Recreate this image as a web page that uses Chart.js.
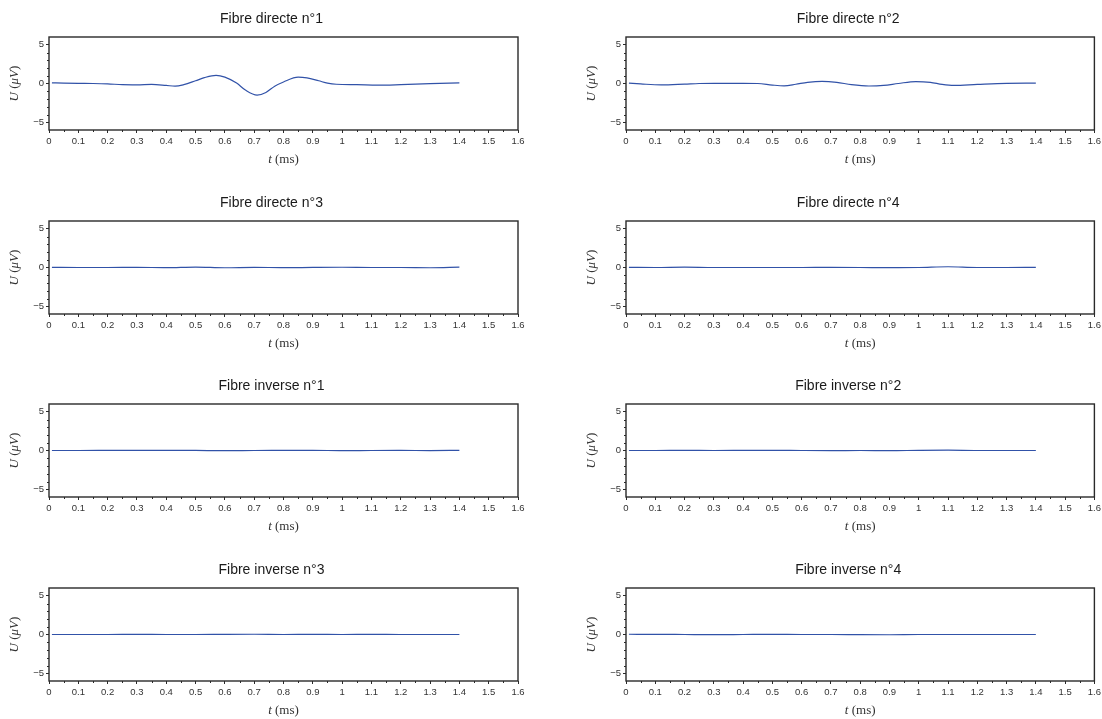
<!DOCTYPE html>
<html>
<head>
<meta charset="utf-8">
<title>Fibres</title>
<script src="https://cdn.jsdelivr.net/npm/chart.js@4/dist/chart.umd.min.js"></script>
<style>
  body { margin: 0; background: #fff; overflow: hidden; }
  .panel { position: absolute; height: 184px; }
</style>
</head>
<body>
<div id="wrap"></div>
<script>
// Panel titles
const titles = [
  "Fibre directe n°1", "Fibre directe n°2",
  "Fibre directe n°3", "Fibre directe n°4",
  "Fibre inverse n°1", "Fibre inverse n°2",
  "Fibre inverse n°3", "Fibre inverse n°4"
];

// Fibre directe n°1 (t in ms, U in µV)
const tD1 = [0.01, 0.05, 0.1, 0.15, 0.2, 0.25, 0.3, 0.35, 0.4, 0.43, 0.46, 0.5, 0.53, 0.57, 0.6, 0.64, 0.67, 0.71, 0.74, 0.77, 0.8, 0.85, 0.88, 0.92, 0.95, 0.98, 1.05, 1.12, 1.2, 1.3, 1.4];
const uD1 = [0.08, 0.05, 0.02, 0.0, -0.05, -0.15, -0.17, -0.12, -0.25, -0.35, -0.15, 0.35, 0.75, 1.05, 0.82, 0.05, -0.85, -1.5, -1.15, -0.35, 0.2, 0.82, 0.72, 0.35, 0.05, -0.1, -0.15, -0.22, -0.15, -0.02, 0.07];

// Fibre directe n°2
const tD2 = [0.01, 0.05, 0.12, 0.2, 0.25, 0.3, 0.4, 0.45, 0.5, 0.54, 0.58, 0.62, 0.67, 0.72, 0.77, 0.83, 0.88, 0.93, 0.99, 1.04, 1.08, 1.12, 1.2, 1.3, 1.4];
const uD2 = [0.05, -0.05, -0.18, -0.08, 0.0, 0.02, 0.02, 0.0, -0.2, -0.3, -0.1, 0.15, 0.28, 0.15, -0.15, -0.32, -0.25, 0.0, 0.25, 0.15, -0.12, -0.25, -0.12, 0.02, 0.05];

// Nearly flat traces share one time base
const tFlat = [0.01, 0.1, 0.2, 0.3, 0.4, 0.5, 0.6, 0.7, 0.8, 0.9, 1.0, 1.1, 1.2, 1.3, 1.4];
const uD3 = [0.02, 0.0, 0.0, 0.02, -0.02, 0.06, -0.03, 0.02, -0.02, 0.01, 0.03, 0.0, 0.0, -0.03, 0.05];
const uD4 = [0.02, 0.0, 0.05, 0.0, 0.0, 0.0, 0.0, 0.01, 0.0, -0.02, 0.0, 0.1, 0.0, 0.0, 0.02];
const uI1 = [0.0, 0.0, 0.01, 0.02, 0.02, 0.01, -0.02, 0.0, 0.01, 0.02, -0.02, 0.0, 0.01, -0.01, 0.02];
const uI2 = [0.0, 0.0, 0.02, 0.0, 0.01, 0.02, 0.0, -0.01, 0.0, -0.02, 0.02, 0.04, 0.0, 0.0, 0.0];
const uI3 = [0.0, 0.0, 0.0, 0.01, 0.0, 0.0, 0.02, 0.03, 0.0, 0.02, 0.0, 0.01, 0.0, 0.0, 0.0];
const uI4 = [0.03, 0.02, 0.0, -0.02, 0.0, 0.02, 0.0, 0.0, -0.02, -0.03, 0.0, 0.0, 0.0, 0.0, 0.0];

// Axis ticks
const xTicks = [0, 0.1, 0.2, 0.3, 0.4, 0.5, 0.6, 0.7, 0.8, 0.9, 1, 1.1, 1.2, 1.3, 1.4, 1.5, 1.6];
const xMinor = [0.05, 0.15, 0.25, 0.35, 0.45, 0.55, 0.65, 0.75, 0.85, 0.95, 1.05, 1.15, 1.25, 1.35, 1.45, 1.55];
const yTicks = [-5, 0, 5];
const yMinor = [-4, -3, -2, -1, 1, 2, 3, 4];

const series = [
  [tD1, uD1], [tD2, uD2],
  [tFlat, uD3], [tFlat, uD4],
  [tFlat, uI1], [tFlat, uI2],
  [tFlat, uI3], [tFlat, uI4]
];

const lineColor = "#3152a8";
const frameColor = "#2a2a2a";

// frame, minor ticks, title and mixed italic axis labels
const decor = {
  id: "decor",
  afterDraw(chart) {
    const ctx = chart.ctx;
    const a = chart.chartArea;
    const xs = chart.scales.x, ys = chart.scales.y;
    ctx.save();
    ctx.strokeStyle = frameColor;
    ctx.lineWidth = 1;
    ctx.beginPath();
    xMinor.forEach(v => {
      const px = Math.round(xs.getPixelForValue(v)) + 0.5;
      ctx.moveTo(px, a.bottom); ctx.lineTo(px, a.bottom + 2);
    });
    yMinor.forEach(v => {
      const py = Math.round(ys.getPixelForValue(v)) + 0.5;
      ctx.moveTo(a.left, py); ctx.lineTo(a.left - 2, py);
    });
    ctx.stroke();
    ctx.lineWidth = 1.4;
    ctx.strokeRect(a.left, a.top, a.right - a.left, a.bottom - a.top);

    // title
    ctx.fillStyle = "#1a1a1a";
    ctx.font = '14px "Liberation Sans", Arial, sans-serif';
    ctx.textAlign = "center";
    ctx.textBaseline = "middle";
    ctx.fillText(chart.options.plugins.decor.title, (a.left + a.right) / 2 - 12, a.top - 18);

    // axis labels
    const it = 'italic 13px "Liberation Serif", serif';
    const up = '13px "Liberation Serif", serif';
    const drawParts = (parts, cx, cy) => {
      let w = 0;
      parts.forEach(p => { ctx.font = p[1]; w += ctx.measureText(p[0]).width; });
      let x = cx - w / 2;
      ctx.textAlign = "left";
      parts.forEach(p => { ctx.font = p[1]; ctx.fillText(p[0], x, cy); x += ctx.measureText(p[0]).width; });
    };
    ctx.fillStyle = "#333";
    drawParts([["t", it], [" (ms)", up]], (a.left + a.right) / 2, a.bottom + 30);
    ctx.save();
    ctx.translate(a.left - 34, (a.top + a.bottom) / 2);
    ctx.rotate(-Math.PI / 2);
    drawParts([["U", it], [" (", up], ["μV", it], [")", up]], 0, 0);
    ctx.restore();
    ctx.restore();
  }
};

const wrap = document.getElementById("wrap");
const tickFont = { family: '"Liberation Sans", Arial, sans-serif', size: 9.5 };

series.forEach((s, i) => {
  const col = i % 2, row = Math.floor(i / 2);
  const w = col ? 553 : 551;
  const div = document.createElement("div");
  div.className = "panel";
  div.style.width = w + "px";
  div.style.left = (col * 551) + "px";
  div.style.top = [0, 184, 367, 551][row] + "px";
  const cv = document.createElement("canvas");
  cv.width = w; cv.height = 184;
  div.appendChild(cv);
  wrap.appendChild(div);

  new Chart(cv.getContext("2d"), {
    type: "line",
    data: {
      datasets: [{
        data: s[0].map((t, k) => ({ x: t, y: s[1][k] })),
        borderColor: lineColor,
        borderWidth: 1.2,
        pointRadius: 0,
        cubicInterpolationMode: "monotone",
        fill: false
      }]
    },
    options: {
      responsive: false,
      animation: false,
      layout: { padding: { left: col ? 26 : 0, right: col ? 8 : 33, top: 37, bottom: 0 } },
      plugins: {
        legend: { display: false },
        tooltip: { enabled: false },
        decor: { title: titles[i] }
      },
      scales: {
        x: {
          type: "linear", min: 0, max: 1.6,
          afterBuildTicks: sc => { sc.ticks = xTicks.map(v => ({ value: v })); },
          afterFit: sc => { sc.height = 54; },
          ticks: {
            font: tickFont, color: "#333", padding: 3, maxRotation: 0, autoSkip: false,
            callback: v => String(Math.round(v * 10) / 10)
          },
          grid: { drawOnChartArea: false, drawTicks: true, tickLength: 3, color: frameColor },
          border: { display: false }
        },
        y: {
          type: "linear", min: -6, max: 6,
          afterBuildTicks: sc => { sc.ticks = yTicks.map(v => ({ value: v })); },
          afterFit: sc => { sc.width = 49; },
          ticks: {
            font: tickFont, color: "#333", padding: 2,
            callback: v => v < 0 ? "−" + Math.abs(v) : String(v)
          },
          grid: { drawOnChartArea: false, drawTicks: true, tickLength: 3, color: frameColor },
          border: { display: false }
        }
      }
    },
    plugins: [decor]
  });
});
</script>
</body>
</html>
